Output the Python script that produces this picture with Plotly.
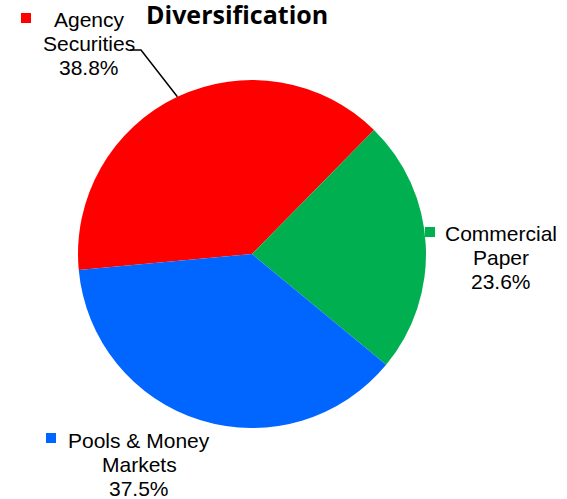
import math
import plotly.graph_objects as go

# ---- data ----
categories = ["Agency Securities", "Commercial Paper", "Pools & Money Markets"]
values = [38.8, 23.6, 37.5]
label_lines = [["Agency", "Securities", "38.8%"],
               ["Commercial", "Paper", "23.6%"],
               ["Pools & Money", "Markets", "37.5%"]]
colors = ["#FF0000", "#00B050", "#0066FF"]
title_text = "Diversification"

W, H = 567, 499
cx, cy, R = 252, 254, 174          # pie center / radius in px
start_angle = -95.3                # clockwise from 12 o'clock

def px(x):
    return x / W

def py(y):
    return 1 - y / H

fig = go.Figure(go.Pie(
    labels=categories, values=values, sort=False, direction="clockwise",
    rotation=start_angle, marker=dict(colors=colors, line=dict(width=0)),
    textinfo="none", hoverinfo="label+percent", showlegend=False,
    domain=dict(x=[px(cx - R), px(cx + R)], y=[py(cy + R), py(cy - R)]),
))

# label layout (pixel positions): text center x, first-line center y, square center
label_pos = [
    dict(tx=89, ty=19, sx=26, sy=18),
    dict(tx=501, ty=233, sx=430, sy=232),
    dict(tx=139, ty=440, sx=51, sy=438),
]
line_gap = 24.3
font = dict(family="Liberation Sans, Arial", size=21, color="#000000")

annotations = []
shapes = []
for lines, pos, col in zip(label_lines, label_pos, colors):
    for i, t in enumerate(lines):
        annotations.append(dict(
            x=px(pos["tx"]), y=py(pos["ty"] + i * line_gap), xref="paper", yref="paper",
            text=t, showarrow=False, xanchor="center", yanchor="middle", font=font))
    s = 5
    shapes.append(dict(type="rect", xref="paper", yref="paper",
                       x0=px(pos["sx"] - s), x1=px(pos["sx"] + s),
                       y0=py(pos["sy"] + s), y1=py(pos["sy"] - s),
                       fillcolor=col, line=dict(width=0)))

# leader line for Agency Securities: from label to slice edge at mid-angle
total = sum(values)
mid = math.radians(start_angle + values[0] / total * 360 / 2)
ex, ey = cx + R * math.sin(mid), cy - R * math.cos(mid)
shapes.append(dict(type="path", xref="paper", yref="paper",
                   path=f"M {px(130)},{py(50)} L {px(141)},{py(50)} L {px(ex)},{py(ey)}",
                   line=dict(color="#000000", width=1.5)))

annotations.append(dict(
    x=px(237), y=py(14), xref="paper", yref="paper", text=f"<b>{title_text}</b>",
    showarrow=False, xanchor="center", yanchor="middle",
    font=dict(family="Open Sans, sans-serif", size=25, color="#000000")))

fig.update_layout(width=W, height=H, margin=dict(l=0, r=0, t=0, b=0),
                  paper_bgcolor="white", plot_bgcolor="white",
                  annotations=annotations, shapes=shapes)

fig.write_html("out.html", config={"displayModeBar": False},
               post_script="document.body.style.margin='0';document.body.style.padding='0';")
